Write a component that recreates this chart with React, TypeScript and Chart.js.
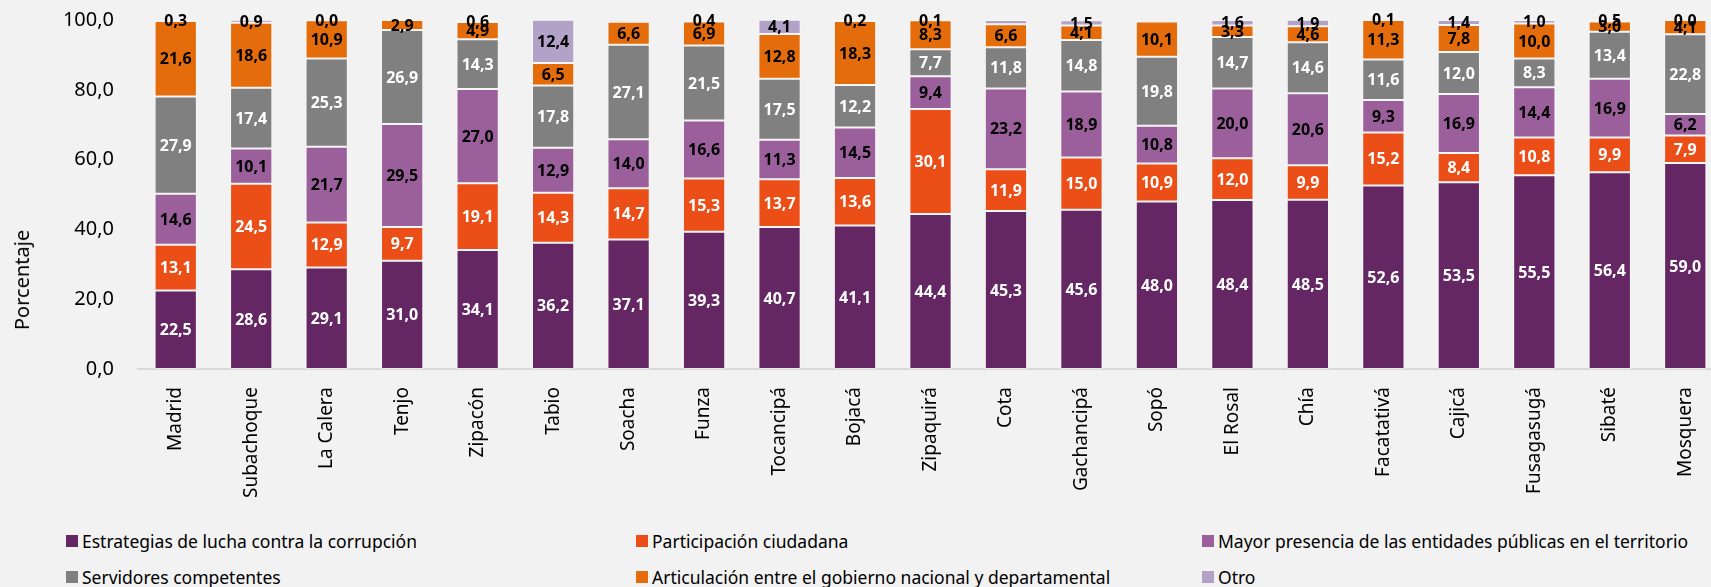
import React, { useEffect, useRef } from "react";
import { Chart, registerables } from "chart.js";

Chart.register(...registerables);

const categories = ["Madrid", "Subachoque", "La Calera", "Tenjo", "Zipacón", "Tabio", "Soacha", "Funza", "Tocancipá", "Bojacá", "Zipaquirá", "Cota", "Gachancipá", "Sopó", "El Rosal", "Chía", "Facatativá", "Cajicá", "Fusagasugá", "Sibaté", "Mosquera"];

const estrategias = [22.5, 28.6, 29.1, 31.0, 34.1, 36.2, 37.1, 39.3, 40.7, 41.1, 44.4, 45.3, 45.6, 48.0, 48.4, 48.5, 52.6, 53.5, 55.5, 56.4, 59.0];
const participacion = [13.1, 24.5, 12.9, 9.7, 19.1, 14.3, 14.7, 15.3, 13.7, 13.6, 30.1, 11.9, 15.0, 10.9, 12.0, 9.9, 15.2, 8.4, 10.8, 9.9, 7.9];
const mayorPresencia = [14.6, 10.1, 21.7, 29.5, 27.0, 12.9, 14.0, 16.6, 11.3, 14.5, 9.4, 23.2, 18.9, 10.8, 20.0, 20.6, 9.3, 16.9, 14.4, 16.9, 6.2];
const servidores = [27.9, 17.4, 25.3, 26.9, 14.3, 17.8, 27.1, 21.5, 17.5, 12.2, 7.7, 11.8, 14.8, 19.8, 14.7, 14.6, 11.6, 12.0, 8.3, 13.4, 22.8];
const articulacion = [21.6, 18.6, 10.9, 2.9, 4.9, 6.5, 6.6, 6.9, 12.8, 18.3, 8.3, 6.6, 4.1, 10.1, 3.3, 4.6, 11.3, 7.8, 10.0, 3.0, 4.1];
const otro: (number | null)[] = [0.3, 0.9, 0.0, null, 0.6, 12.4, null, 0.4, 4.1, 0.2, 0.1, 1.2, 1.5, null, 1.6, 1.9, 0.1, 1.4, 1.0, 0.5, 0.0];
// Cota's "Otro" slice carries no label in the reference
const otroUnlabeled = ["Cota"];

const yTicks = [0, 20, 40, 60, 80, 100];
const yTitle = "Porcentaje";

const seriesNames = [
  "Estrategias de lucha contra la corrupción",
  "Participación ciudadana",
  "Mayor presencia de las entidades públicas en el territorio",
  "Servidores competentes",
  "Articulación entre el gobierno nacional y departamental",
  "Otro",
];
const seriesColors = ["#652764", "#EB4E16", "#9B609B", "#808080", "#E46C0A", "#B2A2C8"];
const labelColors = ["#FFFFFF", "#FFFFFF", "#000000", "#FFFFFF", "#000000", "#000000"];

const FONT = "'Noto Sans', 'Open Sans', sans-serif";
const fmt = (v: number) => v.toFixed(1).replace(".", ",");

export default function App() {
  const ref = useRef<HTMLCanvasElement | null>(null);

  useEffect(() => {
    document.body.style.margin = "0";
    document.body.style.background = "#F2F2F2";
    const seriesData = [estrategias, participacion, mayorPresencia, servidores, articulacion, otro];

    const labelPlugin = {
      id: "segLabels",
      afterDatasetsDraw(chart: any) {
        const ctx = chart.ctx;
        ctx.save();
        ctx.font = `bold 16px ${FONT}`;
        ctx.textAlign = "center";
        ctx.textBaseline = "middle";
        chart.data.datasets.forEach((ds: any, di: number) => {
          const meta = chart.getDatasetMeta(di);
          meta.data.forEach((el: any, i: number) => {
            const v = ds.data[i];
            if (v === null || v === undefined) return;
            if (di === 5 && otroUnlabeled.includes(categories[i])) return;
            const p = el.getProps(["x", "y", "base"], true);
            ctx.fillStyle = labelColors[di];
            ctx.fillText(fmt(v), p.x, (p.y + p.base) / 2 + 1);
          });
        });
        ctx.restore();
      },
    };

    const chart = new Chart(ref.current as HTMLCanvasElement, {
      type: "bar",
      data: {
        labels: categories,
        datasets: seriesData.map((d, i) => ({
          label: seriesNames[i],
          data: d as any,
          backgroundColor: seriesColors[i],
          borderColor: "rgba(255,255,255,0.45)",
          borderWidth: 1,
          borderSkipped: false,
          categoryPercentage: 1,
          barPercentage: 0.56,
        })),
      },
      options: {
        animation: false,
        responsive: false,
        maintainAspectRatio: false,
        layout: { padding: { top: 20, right: 0, left: 0, bottom: 0 } },
        plugins: { legend: { display: false }, tooltip: { enabled: false } },
        scales: {
          x: {
            stacked: true,
            grid: { display: false },
            border: { display: true, color: "#D9D9D9", width: 2 },
            ticks: {
              color: "#000000",
              font: { family: FONT, size: 19 },
              minRotation: 90,
              maxRotation: 90,
              padding: 10,
              autoSkip: false,
            },
            afterFit: (s: any) => {
              s.height = 130;
              s.paddingLeft = 0;
              s.paddingRight = 0;
            },
          },
          y: {
            stacked: true,
            min: 0,
            max: 100,
            grid: { display: false },
            border: { display: false },
            afterBuildTicks: (s: any) => {
              s.ticks = yTicks.map((v) => ({ value: v }));
            },
            ticks: {
              color: "#000000",
              font: { family: FONT, size: 20 },
              padding: 16,
              callback: (v: any) => fmt(Number(v)),
            },
            afterFit: (s: any) => {
              s.width = 138;
              s.paddingTop = 0;
              s.paddingBottom = 0;
            },
          },
        },
      },
      plugins: [labelPlugin],
    });
    return () => chart.destroy();
  }, []);

  const legendRows = [
    [0, 1, 2],
    [3, 4, 5],
  ];
  const colX = [66, 636, 1202];
  const rowY = [530, 566];

  return (
    <div style={{ position: "relative", width: 1711, height: 587, background: "#F2F2F2", overflow: "hidden" }}>
      <canvas ref={ref} width={1723} height={499} style={{ position: "absolute", left: 0, top: 0 }} />
      <div
        style={{
          position: "absolute",
          left: 22,
          top: 280,
          transform: "translate(-50%, -50%) rotate(-90deg)",
          fontFamily: FONT,
          fontSize: 20,
          color: "#000000",
          whiteSpace: "nowrap",
          lineHeight: "24px",
        }}
      >
        {yTitle}
      </div>
      {legendRows.map((row, ri) =>
        row.map((si, ci) => (
          <div
            key={si}
            style={{
              position: "absolute",
              left: colX[ci],
              top: rowY[ri],
              display: "flex",
              alignItems: "center",
              fontFamily: FONT,
              fontSize: 17.5,
              color: "#000000",
              whiteSpace: "nowrap",
              lineHeight: "22px",
            }}
          >
            <span style={{ display: "inline-block", width: 12, height: 12, background: seriesColors[si], marginRight: 4 }} />
            <span>{seriesNames[si]}</span>
          </div>
        ))
      )}
    </div>
  );
}
